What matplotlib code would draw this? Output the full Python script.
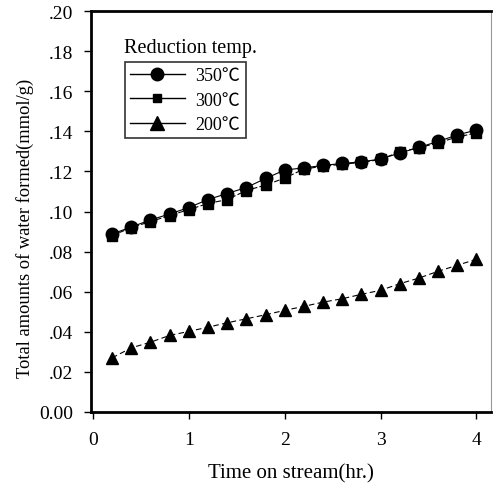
# Water formed vs time on stream, for three reduction temperatures

import matplotlib.pyplot as plt
from matplotlib.lines import Line2D

plt.rcParams['font.family'] = ['Liberation Serif', 'Noto Sans CJK JP']

# data
hours = [0.2, 0.4, 0.6, 0.8, 1.0, 1.2, 1.4, 1.6, 1.8, 2.0,
         2.2, 2.4, 2.6, 2.8, 3.0, 3.2, 3.4, 3.6, 3.8, 4.0]
w350 = [0.0888, 0.0923, 0.0958, 0.0988, 0.1020, 0.1060, 0.1090, 0.1120, 0.1165, 0.1207,
        0.1218, 0.1230, 0.1240, 0.1248, 0.1262, 0.1292, 0.1320, 0.1350, 0.1382, 0.1407]
w300 = [0.0880, 0.0920, 0.0950, 0.0980, 0.1010, 0.1040, 0.1060, 0.1105, 0.1132, 0.1167,
        0.1212, 0.1226, 0.1236, 0.1245, 0.1260, 0.1298, 0.1318, 0.1343, 0.1372, 0.1392]
w200 = [0.0270, 0.0320, 0.0348, 0.0382, 0.0402, 0.0423, 0.0445, 0.0465, 0.0485, 0.0507,
        0.0527, 0.0548, 0.0565, 0.0587, 0.0607, 0.0640, 0.0668, 0.0702, 0.0732, 0.0762]
labels = ['350\u2103', '300\u2103', '200\u2103']

yticks = [0.0, 0.02, 0.04, 0.06, 0.08, 0.10, 0.12, 0.14, 0.16, 0.18, 0.20]
yticklabels = ['0.00', '.02', '.04', '.06', '.08', '.10', '.12', '.14', '.16', '.18', '.20']

fig = plt.figure(figsize=(4.93, 4.85), dpi=100)
ax = fig.add_axes([0.1846, 0.1485, 0.811, 0.8265])

ax.plot(hours, w350, 'k-', lw=0.8, marker='o', ms=9)
ax.plot(hours, w300, 'k--', lw=0.8, marker='s', ms=7.5, dashes=(5, 2))
ax.plot(hours, w200, 'k--', lw=0.8, marker='^', ms=9, dashes=(5, 3))

ax.set_xlim(-0.02, 4.15)
ax.set_ylim(0, 0.20)
ax.set_xticks([0, 1, 2, 3, 4])
ax.set_yticks(yticks)
ax.set_yticklabels(yticklabels)
ax.tick_params(labelsize=14, direction='out', length=5, width=1)
ax.tick_params(axis='x', pad=9)
ax.tick_params(axis='y', pad=8)

for s in ['left', 'bottom', 'top']:
    ax.spines[s].set_linewidth(2)
ax.spines['right'].set_linewidth(0.8)
ax.spines['right'].set_color('0.6')

ax.set_xlabel('Time on stream(hr.)', fontsize=15, labelpad=11)
ax.set_ylabel('Total amounts of water formed(mmol/g)', fontsize=13.3)
ax.yaxis.set_label_coords(-0.142, 0.46)

# legend: solid line samples, title written above the box
handles = [Line2D([], [], color='k', lw=1, marker='o', ms=9),
           Line2D([], [], color='k', lw=1, marker='s', ms=6),
           Line2D([], [], color='k', lw=1, marker='^', ms=10)]
leg = ax.legend(handles, labels, loc='upper left', bbox_to_anchor=(0.085, 0.873),
                fontsize=13, frameon=True, fancybox=False, handlelength=3.0,
                borderpad=0.3, labelspacing=0.4, handletextpad=0.6,
                borderaxespad=0)
leg.get_frame().set_edgecolor('k')
leg.get_frame().set_linewidth(1.2)
ax.text(0.082, 0.91, 'Reduction temp.', transform=ax.transAxes, fontsize=14.5,
        va='center')

fig.savefig('out.png', dpi=100)
